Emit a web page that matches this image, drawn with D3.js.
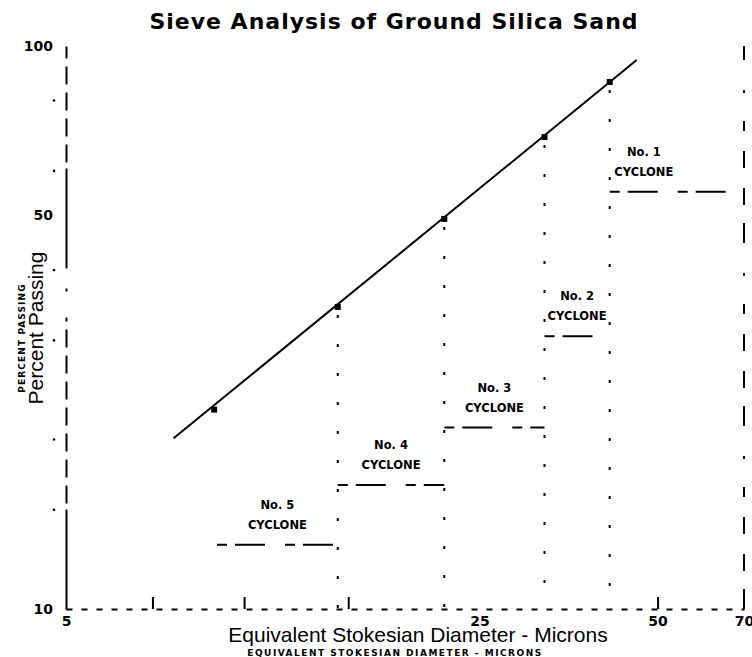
<!DOCTYPE html>
<html>
<head>
<meta charset="utf-8">
<script src="https://cdn.jsdelivr.net/npm/d3@7"></script>
<style>
  body { margin: 0; background: #fff; }
  svg { display: block; }
</style>
</head>
<body>
<div id="container"></div>
<script>
// sieve analysis points
const sizes = [8.9, 14.4, 21.8, 32.2, 41.5]; // microns
const passing = [22.6, 34.4, 49.3, 68.9, 86.3]; // percent passing
// ends of the drawn straight line
const fitSizes = [7.6, 46.1];
const fitPassing = [20.1, 94.4];

// cyclone fractions
const cyclones = ["No. 5", "No. 4", "No. 3", "No. 2", "No. 1"];
const cycloneFrom = [9.0, 14.4, 21.8, 32.2, 41.5];
const cycloneTo = [14.4, 21.8, 32.2, 41.5, 70];
const cycloneLevel = [13.0, 16.6, 21.0, 30.5, 55.1];

// ticks
const xTickValues = [5, 25, 50, 70];
const xMinorValues = [7, 10, 15, 50];
const yTickValues = [10, 50, 100];
const yMinorValues = [15, 20, 30, 40, 60, 80];

const width = 752;
const height = 657;

const svg = d3
  .select("#container")
  .append("svg")
  .attr("width", width)
  .attr("height", height);

const xScale = d3.scaleLog().domain([5, 70]).range([66, 744]);
const yScale = d3.scaleLog().domain([10, 100]).range([609, 46]);

// title
svg
  .append("text")
  .attr("x", 394)
  .attr("y", 29)
  .attr("text-anchor", "middle")
  .style("font-family", "DejaVu Sans")
  .style("font-weight", "bold")
  .style("font-size", "22px")
  .style("letter-spacing", "1px")
  .text("Sieve Analysis of Ground Silica Sand");

// x axis
const xAxis = d3
  .axisBottom(xScale)
  .tickValues(xTickValues)
  .tickFormat(d3.format("d"))
  .tickSize(0)
  .tickSizeOuter(0)
  .tickPadding(7);
const gx = svg
  .append("g")
  .attr("transform", `translate(0,${yScale(10)})`)
  .call(xAxis);
gx.select(".domain")
  .attr("stroke-width", 2)
  .attr("stroke-dasharray", "6,9");
gx.selectAll("text")
  .style("font-family", "DejaVu Sans")
  .style("font-weight", "bold")
  .style("font-size", "14px")
  .attr("fill", "#000");

// short marks on the x axis
const xMinor = d3
  .axisBottom(xScale)
  .tickValues(xMinorValues)
  .tickFormat("")
  .tickSize(-12)
  .tickSizeOuter(0);
const gxm = svg
  .append("g")
  .attr("transform", `translate(0,${yScale(10)})`)
  .call(xMinor);
gxm.select(".domain").remove();
gxm.selectAll("line").attr("stroke-width", 2);

// y axis
const yAxis = d3
  .axisLeft(yScale)
  .tickValues(yTickValues)
  .tickFormat(d3.format("d"))
  .tickSize(0)
  .tickSizeOuter(0)
  .tickPadding(13);
const gy = svg
  .append("g")
  .attr("transform", `translate(${xScale(5)},0)`)
  .call(yAxis);
gy.select(".domain")
  .attr("stroke-width", 2)
  .attr("stroke-dasharray", "100,6,18,8,18,8,18,8,18,8,18,8,18,8,18,8,4,26,3,20");
gy.selectAll("text")
  .style("font-family", "DejaVu Sans")
  .style("font-weight", "bold")
  .style("font-size", "14px")
  .attr("fill", "#000");

// minor marks left of the y axis
svg
  .append("g")
  .selectAll("circle")
  .data(yMinorValues)
  .enter()
  .append("circle")
  .attr("cx", 54)
  .attr("cy", (d) => yScale(d))
  .attr("r", 1.3)
  .attr("fill", "#000");

// axis titles
svg
  .append("text")
  .attr("x", 418)
  .attr("y", 642)
  .attr("text-anchor", "middle")
  .style("font-family", "Liberation Sans")
  .style("font-size", "21px")
  .text("Equivalent Stokesian Diameter - Microns");
svg
  .append("text")
  .attr("x", 395)
  .attr("y", 656)
  .attr("text-anchor", "middle")
  .style("font-family", "DejaVu Sans")
  .style("font-weight", "bold")
  .style("font-size", "9px")
  .style("letter-spacing", "1.5px")
  .text("EQUIVALENT STOKESIAN DIAMETER - MICRONS");
svg
  .append("text")
  .attr("transform", "translate(43,328) rotate(-90)")
  .attr("text-anchor", "middle")
  .style("font-family", "Liberation Sans")
  .style("font-size", "21px")
  .text("Percent Passing");
svg
  .append("text")
  .attr("transform", "translate(25,338) rotate(-90)")
  .attr("text-anchor", "middle")
  .style("font-family", "DejaVu Sans")
  .style("font-weight", "bold")
  .style("font-size", "9px")
  .style("letter-spacing", "1.1px")
  .text("PERCENT PASSING");

// dotted verticals at cyclone cut sizes, down to the x axis
const cuts = d3.range(1, sizes.length).map((i) => ({ x: sizes[i], top: passing[i] }));
svg
  .append("g")
  .selectAll("line")
  .data(cuts)
  .enter()
  .append("line")
  .attr("x1", (d) => xScale(d.x))
  .attr("x2", (d) => xScale(d.x))
  .attr("y1", (d) => yScale(d.top) + 8)
  .attr("y2", yScale(10))
  .attr("stroke", "#000")
  .attr("stroke-width", 2)
  .attr("stroke-dasharray", "3,26");
// right hand frame
svg
  .append("line")
  .attr("x1", xScale(70))
  .attr("x2", xScale(70))
  .attr("y1", yScale(10))
  .attr("y2", yScale(100))
  .attr("stroke", "#000")
  .attr("stroke-width", 2)
  .attr("stroke-dasharray", "20,18,17,20,17,20,10,28,3,30");

// cyclone steps
const steps = cyclones.map((name, i) => ({
  name: name,
  from: cycloneFrom[i],
  to: cycloneTo[i],
  level: cycloneLevel[i],
}));
svg
  .append("g")
  .selectAll("line")
  .data(steps)
  .enter()
  .append("line")
  .attr("x1", (d) => xScale(d.from))
  .attr("x2", (d) => xScale(d.to))
  .attr("y1", (d) => yScale(d.level))
  .attr("y2", (d) => yScale(d.level))
  .attr("stroke", "#000")
  .attr("stroke-width", 2)
  .attr("stroke-dasharray", "10,8,30,20");
const labels = svg
  .append("g")
  .selectAll("g")
  .data(steps)
  .enter()
  .append("g")
  .attr("transform", function (d, i) {
    let cx = (xScale(d.from) + xScale(d.to)) / 2;
    if (i == steps.length - 1) cx -= 33; // No. 1 label sits left of centre
    return `translate(${cx},${yScale(d.level)})`;
  })
  .style("font-family", "DejaVu Sans")
  .style("font-weight", "bold")
  .style("font-size", "11.5px")
  .attr("text-anchor", "middle");
labels
  .append("text")
  .attr("y", -36)
  .text((d) => d.name);
labels
  .append("text")
  .attr("y", -16)
  .text("CYCLONE");

// fitted line and points
const line = d3
  .line()
  .x((d) => xScale(d[0]))
  .y((d) => yScale(d[1]));
svg
  .append("path")
  .datum(d3.zip(fitSizes, fitPassing))
  .attr("d", line)
  .attr("fill", "none")
  .attr("stroke", "#000")
  .attr("stroke-width", 2);
svg
  .append("g")
  .selectAll("rect")
  .data(d3.zip(sizes, passing))
  .enter()
  .append("rect")
  .attr("x", (d) => xScale(d[0]) - 3)
  .attr("y", (d) => yScale(d[1]) - 3)
  .attr("width", 6)
  .attr("height", 6)
  .attr("fill", "#000");
</script>
</body>
</html>
